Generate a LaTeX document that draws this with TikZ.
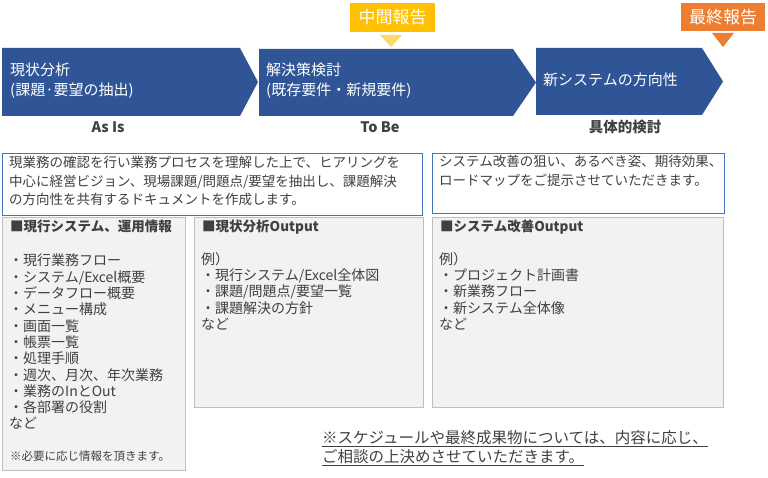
\documentclass[tikz,border=0pt]{standalone}
\usepackage{fontspec}
\setmainfont{Noto Sans CJK JP}
\usepackage{tikz}
\usetikzlibrary{positioning,calc}
\definecolor{phaseblue}{HTML}{2F5597}
\definecolor{frameblue}{HTML}{4472C4}
\definecolor{midyellow}{HTML}{FFC000}
\definecolor{midpale}{HTML}{FFD966}
\definecolor{finorange}{HTML}{ED7D31}
\definecolor{boxgray}{HTML}{F2F2F2}
\definecolor{linegray}{HTML}{BFBFBF}
\definecolor{textgray}{HTML}{404040}
\tikzset{
    phasetext/.style={text=white, font=\fontsize{15}{20}\selectfont, align=left, anchor=north west, inner sep=0pt},
    phaselabel/.style={text=textgray, font=\bfseries\fontsize{14.5}{17}\selectfont, inner sep=0pt},
    report/.style={text=white, font=\fontsize{17}{20}\selectfont, inner sep=0pt},
    descbox/.style={draw=frameblue, fill=white, line width=0.9pt},
    desctext/.style={text=textgray, font=\fontsize{13.5}{18.5}\selectfont, align=left, anchor=north west, inner sep=0pt},
    infobox/.style={draw=linegray, fill=boxgray, line width=0.9pt},
    infohead/.style={text=textgray, font=\bfseries\fontsize{13.5}{16}\selectfont, anchor=north west, inner sep=0pt},
    infotext/.style={text=textgray, font=\fontsize{14}{16.3}\selectfont, align=left, anchor=north west, inner sep=0pt}
}
\begin{document}
\begin{tikzpicture}[x=1pt, y=-1pt]
    \useasboundingbox (0,0) rectangle (768,478);

    % phases
    \fill[phaseblue] (2,48) -- (240,48) -- (258,82) -- (240,116) -- (2,116) -- cycle;
    \fill[phaseblue] (259,49) -- (513,49) -- (536,82.5) -- (513,116) -- (259,116) -- cycle;
    \fill[phaseblue] (536,48) -- (702,48) -- (723,81.5) -- (702,115) -- (536,115) -- cycle;
    \node[phasetext] (asis) at (10,62.5) {現状分析\\(課題·要望の抽出)};
    \node[phasetext] (tobe) at (266,62.5) {解決策検討\\(既存要件・新規要件)};
    \node[phasetext] (plan) at (543,72.5) {新システムの方向性};
    \node[phaselabel] (asislabel) at (108,127) {As Is};
    \node[phaselabel] (tobelabel) at (380,127) {To Be};
    \node[phaselabel] (planlabel) at (625,127) {具体的検討};

    % reports
    \fill[midyellow] (350,3) rectangle (435,32);
    \node[report] (midreport) at (392.5,17.5) {中間報告};
    \fill[midpale] (380,35) -- (402,35) -- (391,47) -- cycle;
    \fill[finorange] (681,3) rectangle (765,31);
    \node[report] (finreport) at (723,17) {最終報告};
    \fill[finorange] (712,33) -- (734,33) -- (723,47) -- cycle;

    % descriptions
    \draw[descbox] (2,153) rectangle (422,215);
    \node[desctext] (asisdesc) at (9,156) {現業務の確認を行い業務プロセスを理解した上で、ヒアリングを\\中心に経営ビジョン、現場課題/問題点/要望を抽出し、課題解決\\の方向性を共有するドキュメントを作成します。};
    \draw[descbox] (432,153) rectangle (724,213);
    \node[desctext] (plandesc) at (439,155) {システム改善の狙い、あるべき姿、期待効果、\\ロードマップをご提示させていただきます。};

    % outputs
    \draw[infobox] (2,217) rectangle (185,470);
    \node[infohead] (curhead) at (10,220) {■現行システム、運用情報};
    \node[infotext] (curlist) at (9,254) {・現行業務フロー\\・システム/Excel概要\\・データフロー概要\\・メニュー構成\\・画面一覧\\・帳票一覧\\・処理手順\\・週次、月次、年次業務\\・業務のInとOut\\・各部署の役割\\など};
    \node[infotext, font=\fontsize{11.5}{14}\selectfont] (curnote) at (10,451) {※必要に応じ情報を頂きます。};

    \draw[infobox] (194,217) rectangle (423,407);
    \node[infohead] (tobehead) at (202,220) {■現状分析Output};
    \node[infotext] (tobelist) at (201,252) {例）\\・現行システム/Excel全体図\\・課題/問題点/要望一覧\\・課題解決の方針\\など};

    \draw[infobox] (432,217) rectangle (723,407);
    \node[infohead] (planhead) at (440,220) {■システム改善Output};
    \node[infotext] (planlist) at (439,252) {例）\\・プロジェクト計画書\\・新業務フロー\\・新システム全体像\\など};

    % note
    \node[desctext, font=\fontsize{15.5}{19}\selectfont] (schednote) at (322,430) {\underline{※スケジュールや最終成果物については、内容に応じ、}\\\underline{ご相談の上決めさせていただきます。}};
\end{tikzpicture}
\end{document}
